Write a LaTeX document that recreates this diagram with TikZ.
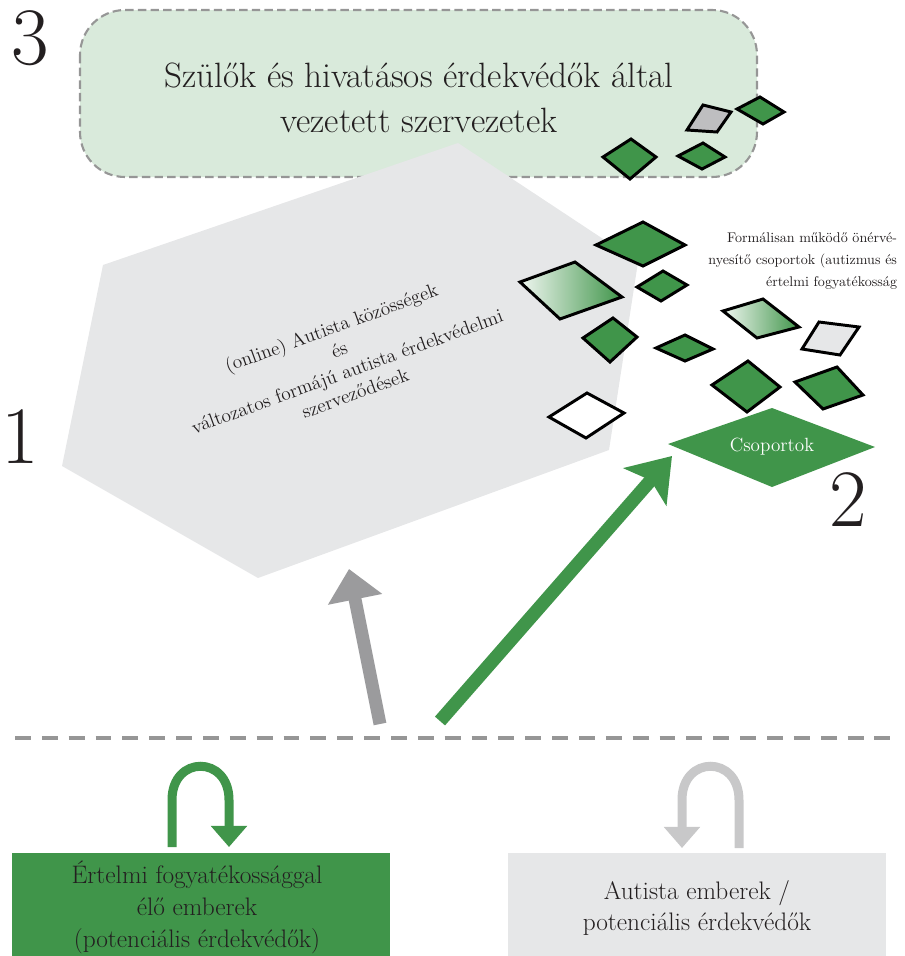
\documentclass[tikz,border=0pt]{standalone}
\usepackage{tikz}
\usetikzlibrary{arrows.meta}
\definecolor{grncol}{RGB}{64,149,74}
\definecolor{bgcol}{RGB}{217,234,219}
\definecolor{hexcol}{RGB}{230,231,232}
\definecolor{arrcol}{RGB}{155,155,157}
\definecolor{loopcol}{RGB}{200,200,201}
\definecolor{dashcol}{RGB}{150,150,150}
\definecolor{txtcol}{RGB}{35,31,32}
\definecolor{rgray}{RGB}{190,190,192}

\begin{document}
\begin{tikzpicture}[
  x=0.025cm, y=-0.025cm, line join=miter,
  rhomb/.style={draw=black,line width=2.1pt,fill=grncol},
  num/.style={txtcol,inner sep=0pt,font=\fontsize{58}{58}\selectfont},
  boxtxt/.style={txtcol,align=center,font=\fontsize{18}{22.7}\selectfont},
]
\useasboundingbox (0,0) rectangle (904,956);

% --- level 3: organisations led by parents and professionals ---
\draw[fill=bgcol,draw=dashcol,line width=1.5pt,dash pattern=on 6pt off 3pt,rounded corners=32pt]
  (80,10) rectangle (757,177);
\node[txtcol,align=center,font=\fontsize{25}{32}\selectfont] (top) at (419,98)
  {Szülők és hivatásos érdekvédők által\\vezetett szervezetek};
\node[num] (n3) at (30,38) {3};

% --- level 1: the grey hexagon ---
\fill[hexcol] (458,143) -- (638,262) -- (609,450) -- (258,578) -- (62,466) -- (103,265) -- cycle;
\node[txtcol,align=center,rotate=20,font=\fontsize{13.7}{16.5}\selectfont] (hex) at (343,360)
  {(online) Autista közösségek\\és\\változatos formájú autista érdekvédelmi\\szerveződések};
\node[num] (n1) at (20,437) {1};

% --- the small groups ---
\draw[rhomb,fill=rgray] (687,130) -- (703,105) -- (731,112) -- (717,132) -- cycle;
\draw[rhomb] (737,109) -- (760,97) -- (784,112) -- (763,124) -- cycle;
\draw[rhomb] (603,157) -- (631,139) -- (656,157) -- (630,179) -- cycle;
\draw[rhomb] (678,156) -- (703,143) -- (725,157) -- (702,169) -- cycle;
\draw[rhomb] (596,245) -- (643,222) -- (685,245) -- (643,266) -- cycle;
\shadedraw[rhomb,left color=grncol!8,right color=grncol] (520,282) -- (575,262) -- (622,297) -- (560,319) -- cycle;
\draw[rhomb] (637,287) -- (663,271) -- (687,285) -- (661,301) -- cycle;
\draw[rhomb] (583,338) -- (613,318) -- (637,337) -- (610,362) -- cycle;
\draw[rhomb] (656,348) -- (685,335) -- (713,349) -- (685,361) -- cycle;
\shadedraw[rhomb,left color=grncol!8,right color=grncol] (723,311) -- (763,299) -- (799,327) -- (757,338) -- cycle;
\draw[rhomb,fill=hexcol] (802,349) -- (819,322) -- (859,327) -- (840,355) -- cycle;
\draw[rhomb] (712,385) -- (748,361) -- (780,387) -- (747,412) -- cycle;
\draw[rhomb] (795,382) -- (837,367) -- (863,395) -- (823,409) -- cycle;
\draw[rhomb,fill=white] (549,417) -- (587,393) -- (624,413) -- (586,438) -- cycle;
\node[txtcol,anchor=north east,align=right,font=\fontsize{10}{15.6}\selectfont] (formal) at (902,228)
  {Formálisan működő önérvé-\\nyesítő csoportok (autizmus és\\értelmi fogyatékosság};

% --- level 2: groups ---
\fill[grncol] (668,444) -- (772,408) -- (875,447) -- (772,487) -- cycle;
\node[white,font=\fontsize{13.6}{16}\selectfont] (csop) at (772,447) {Csoportok};
\node[num] (n2) at (848,500) {2};

% --- the dividing line and the two arrows up ---
\draw[dashcol,line width=3.5pt,dash pattern=on 11.3pt off 7.8pt] (15,738) -- (890,738);
\coordinate (gfoot) at (380,724);
\coordinate (gtip) at (349,569);
\coordinate (afoot) at (440,721);
\coordinate (atip) at (672,456);
\draw[-{Triangle[length=22pt,width=38pt]},arrcol,line width=9.2pt] (gfoot) -- (gtip);
\draw[-{Stealth[length=29pt,width=40pt,inset=6pt]},grncol,line width=9.5pt] (afoot) -- (atip);

% --- the two groups of people ---
\node[fill=grncol,minimum width=378*0.025cm,minimum height=110*0.025cm,inner sep=0pt,
  anchor=north west] (idp) at (12,853) {};
\node[boxtxt] at (197,907) {Értelmi fogyatékossággal\\élő emberek\\(potenciális érdekvédők)};
\node[fill=hexcol,minimum width=378*0.025cm,minimum height=110*0.025cm,inner sep=0pt,
  anchor=north west] (aut) at (508,853) {};
\node[boxtxt] at (697,908) {Autista emberek /\\potenciális érdekvédők};

% loops above the boxes
\draw[-{Triangle[length=15pt,width=25pt]},grncol,line width=6.4pt]
  (172,847) -- (172,800) .. controls (172,755) and (229,755) .. (229,800) -- (229,847);
\draw[-{Triangle[length=15pt,width=25pt]},loopcol,line width=6.4pt]
  (739,848) -- (739,800) .. controls (739,755) and (682,755) .. (682,800) -- (682,848);
\end{tikzpicture}
\end{document}
